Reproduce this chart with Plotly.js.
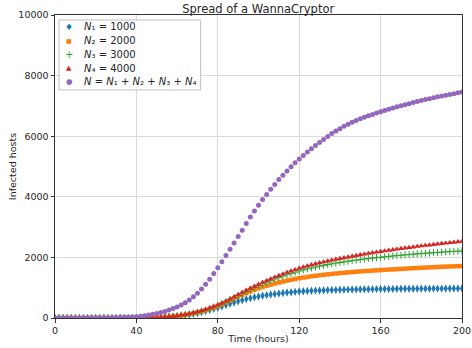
<!DOCTYPE html>
<html>
<head>
<meta charset="utf-8">
<script src="https://cdn.plot.ly/plotly-3.0.1.min.js"></script>
<style>html,body{margin:0;padding:0;background:#fff;}#chart{width:472px;height:348px;}</style>
</head>
<body>
<div id="chart"></div>
<script>
var hours = [0,2,4,6,8,10,12,14,16,18,20,22,24,26,28,30,32,34,36,38,
  40,42,44,46,48,50,52,54,56,58,60,62,64,66,68,70,72,74,76,78,
  80,82,84,86,88,90,92,94,96,98,100,102,104,106,108,110,112,114,116,118,
  120,122,124,126,128,130,132,134,136,138,140,142,144,146,148,150,152,154,156,158,
  160,162,164,166,168,170,172,174,176,178,180,182,184,186,188,190,192,194,196,198,200];

var seriesN1 = [0,0,0,0,0,0,0,0,0,0,0,0,0,0,0,0,0,0,0,0,
  0,1,2,4,7,11,16,23,32,44,58,75,94,116,140,167,197,230,265,302,
  340,382,425,468,510,550,588,623,655,684,710,734,756,776,794,811,826,840,852,863,
  873,882,890,897,904,910,915,920,924,928,932,935,938,941,944,946,948,950,952,954,
  956,958,959,961,962,963,964,965,966,967,968,969,969,970,971,971,972,972,973,973,974];

var seriesN2 = [0,0,0,0,0,0,0,0,0,0,0,0,0,0,0,0,0,0,0,0,
  0,1,2,4,7,11,17,25,36,50,66,84,105,128,155,185,220,258,300,345,
  392,448,510,575,640,705,765,822,876,927,975,1020,1062,1101,1138,1172,1204,1234,1262,1288,
  1312,1334,1355,1375,1393,1410,1426,1441,1455,1468,1481,1493,1505,1516,1527,1537,1547,1556,1565,1574,
  1582,1590,1598,1605,1612,1620,1628,1636,1643,1650,1657,1664,1671,1677,1683,1689,1695,1700,1706,1711,1716];

var seriesN3 = [0,0,0,0,0,0,0,0,0,0,0,0,0,0,0,0,0,0,0,0,
  0,1,2,4,7,11,18,27,38,52,70,88,108,131,158,190,226,266,311,360,
  415,475,538,604,672,740,808,876,942,1007,1070,1128,1183,1236,1287,1336,1383,1428,1471,1512,
  1550,1586,1620,1652,1683,1712,1739,1764,1788,1811,1833,1854,1874,1893,1911,1929,1946,1962,1978,1993,
  2007,2021,2034,2047,2059,2071,2083,2094,2105,2116,2126,2136,2146,2155,2164,2173,2182,2190,2198,2206,2214];

var seriesN4 = [0,0,0,0,0,0,0,0,0,0,0,0,0,0,0,0,0,0,0,0,
  0,1,2,4,7,12,19,28,40,55,73,93,115,140,168,200,240,283,330,380,
  432,490,555,625,697,770,842,912,980,1046,1110,1172,1232,1290,1346,1400,1452,1502,1550,1596,
  1640,1680,1718,1755,1790,1822,1852,1881,1909,1936,1962,1988,2013,2037,2061,2084,2107,2129,2151,2172,
  2193,2213,2233,2252,2271,2290,2308,2326,2343,2360,2377,2393,2409,2425,2440,2455,2470,2485,2500,2514,2528];

var seriesN = [1,1,2,2,2,3,3,4,5,5,6,7,9,10,12,15,18,22,28,35,
  45,58,75,95,120,150,180,215,260,310,365,430,505,590,700,820,960,1110,1280,1470,
  1660,1860,2060,2265,2475,2690,2900,3120,3330,3530,3720,3910,4080,4250,4410,4570,4715,4855,4995,5120,
  5245,5365,5475,5585,5690,5790,5890,5990,6085,6170,6250,6325,6395,6460,6520,6575,6625,6675,6720,6765,
  6810,6850,6890,6930,6970,7005,7040,7075,7110,7145,7180,7210,7240,7270,7300,7330,7355,7380,7405,7430,7455];

var legendNames = [
  '<i>N</i>\u2081 = 1000',
  '<i>N</i>\u2082 = 2000',
  '<i>N</i>\u2083 = 3000',
  '<i>N</i>\u2084 = 4000',
  '<i>N</i> = <i>N</i>\u2081 + <i>N</i>\u2082 + <i>N</i>\u2083 + <i>N</i>\u2084'
];
var seriesColors = ['#1f77b4','#ff7f0e','#2ca02c','#d62728','#9467bd'];
var legendGlyphs = ['\u2666','\u25A0','+','\u25B2','\u25CF'];
var legendGlyphSizes = [9, 6, 10, 7, 7.5];
var xTicks = [0,40,80,120,160,200];
var yTicks = [0,2000,4000,6000,8000,10000];
var yTickText = ['0','2000','4000','6000','8000','10000'];

var traces = [
  {x:hours, y:seriesN1, name:legendNames[0], mode:'markers', type:'scatter',
   marker:{symbol:'diamond-tall', size:6, color:seriesColors[0]}},
  {x:hours, y:seriesN2, name:legendNames[1], mode:'markers', type:'scatter',
   marker:{symbol:'square', size:4.5, color:seriesColors[1]}},
  {x:hours, y:seriesN3, name:legendNames[2], mode:'markers', type:'scatter',
   marker:{symbol:'cross-thin', size:5, color:seriesColors[2], line:{color:seriesColors[2], width:1}}},
  {x:hours, y:seriesN4, name:legendNames[3], mode:'markers', type:'scatter',
   marker:{symbol:'triangle-up', size:5.5, color:seriesColors[3]}},
  {x:hours, y:seriesN, name:legendNames[4], mode:'markers', type:'scatter',
   marker:{symbol:'circle', size:5, color:seriesColors[4]}}
];

// legend drawn as a compact box (matplotlib-like spacing)
var legTop = 0.9614, legStep = 0.0456;
var annotations = [];
for (var i = 0; i < legendNames.length; i++) {
  var yy = legTop - i * legStep;
  annotations.push({xref:'paper', yref:'paper', x:0.0344, y:yy, xanchor:'center', yanchor:'middle',
    text:legendGlyphs[i], showarrow:false,
    font:{family:'DejaVu Sans', size:legendGlyphSizes[i], color:seriesColors[i]}});
  annotations.push({xref:'paper', yref:'paper', x:0.066, y:yy, xanchor:'left', yanchor:'middle',
    text:legendNames[i], showarrow:false,
    font:{family:'DejaVu Sans', size:10, color:'#262626'}});
}
var shapes = [{type:'rect', xref:'paper', yref:'paper', x0:0.0098, x1:0.358, y0:0.7525, y1:0.9835,
  line:{color:'#bdbdbd', width:1}, fillcolor:'rgba(255,255,255,0.85)', layer:'above'}];

var axisCommon = {
  showline:true, linecolor:'#333333', linewidth:1, mirror:true,
  showgrid:true, gridcolor:'#dadada', gridwidth:1,
  zeroline:false, ticks:'outside', ticklen:3.5, tickcolor:'#333333',
  tickfont:{family:'DejaVu Sans', size:9.5, color:'#262626'}
};

var layout = {
  width:472, height:348,
  margin:{l:55, r:10, t:15, b:30},
  paper_bgcolor:'#ffffff', plot_bgcolor:'#ffffff',
  font:{family:'DejaVu Sans', size:10, color:'#262626'},
  showlegend:false,
  title:{text:'Spread of a WannaCryptor', x:0.547, xref:'container', xanchor:'center',
         y:0.975, yref:'container', yanchor:'middle', font:{family:'DejaVu Sans', size:11.5, color:'#262626'}},
  xaxis:Object.assign({}, axisCommon, {range:[0,200], tickvals:xTicks,
         title:{text:'Time (hours)', standoff:0, font:{family:'DejaVu Sans', size:9.5}}}),
  yaxis:Object.assign({}, axisCommon, {range:[0,10000], tickvals:yTicks, ticktext:yTickText,
         title:{text:'Infected hosts', standoff:0, font:{family:'DejaVu Sans', size:9.5}}}),
  shapes:shapes,
  annotations:annotations
};

Plotly.newPlot('chart', traces, layout, {staticPlot:true, displayModeBar:false});
</script>
</body>
</html>
